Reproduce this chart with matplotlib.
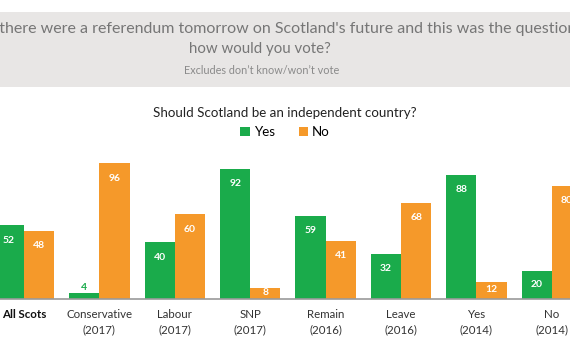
import matplotlib.pyplot as plt
import numpy as np
from matplotlib.patches import Rectangle

# Categorie e percentuali (Sì / No)
categories = ["All Scots", "Conservative\n(2017)", "Labour\n(2017)", "SNP\n(2017)",
              "Remain\n(2016)", "Leave\n(2016)", "Yes\n(2014)", "No\n(2014)"]
yes_vals = [52, 4, 40, 92, 59, 32, 88, 20]
no_vals = [48, 96, 60, 8, 41, 68, 12, 80]

green = "#1aab4b"
orange = "#f5992a"
grey_text = "#767676"

plt.rcParams['font.family'] = ['Lato', 'DejaVu Sans']

fig = plt.figure(figsize=(5.7, 3.5), dpi=100)

# riquadro grigio dell'intestazione
fig.patches.append(Rectangle((0, 1 - 87 / 350), 1, 75 / 350, transform=fig.transFigure,
                             facecolor="#e8e6e5", edgecolor="none", zorder=0))
fig.text(-15 / 570, 1 - 29 / 350,
         "If there were a referendum tomorrow on Scotland's future and this was the question,",
         ha="left", va="center", fontsize=11.5, color=grey_text)
fig.text(260 / 570, 1 - 49 / 350, "how would you vote?", ha="center", va="center",
         fontsize=10.8, color=grey_text)
fig.text(262 / 570, 1 - 70 / 350, "Excludes don\u2019t know/won\u2019t vote", ha="center",
         va="center", fontsize=7.8, color="#8a8a8a")

fig.text(0.5, 1 - 113 / 350, "Should Scotland be an independent country?", ha="center",
         va="center", fontsize=9.6, color="#222222")

ax = fig.add_axes([0, 51 / 350, 1, 149 / 350])
x = np.arange(len(categories))
w = 0.4
b_yes = ax.bar(x - w / 2, yes_vals, w, color=green, label="Yes")
b_no = ax.bar(x + w / 2, no_vals, w, color=orange, label="No")

for bars, vals, col in [(b_yes, yes_vals, green), (b_no, no_vals, orange)]:
    for r, v in zip(bars, vals):
        cx = r.get_x() + r.get_width() / 2
        if v < 6:
            ax.text(cx, v + 4, str(v), ha="center", va="center", fontsize=7.5,
                    color=col, fontweight="bold")
        else:
            y = max(v - 10.5, v / 2 + 0.5) if v < 25 else v - 10.5
            ax.text(cx, y, str(v), ha="center", va="center", fontsize=7.5,
                    color="white", fontweight="bold")

ax.set_xlim(-0.318, 7.24)
ax.set_ylim(0, 105.4)
for s in ["top", "right", "left"]:
    ax.spines[s].set_visible(False)
ax.spines["bottom"].set_color("#9a9a9a")
ax.spines["bottom"].set_linewidth(1.2)
ax.set_yticks([])
ax.set_xticks(x)
ax.set_xticklabels(categories, fontsize=8.3, color="#333333", linespacing=1.5, va="top")
ax.tick_params(axis="x", length=0, pad=7)
ax.get_xticklabels()[0].set_fontweight("bold")
ax.get_xticklabels()[0].set_color("#111111")

fig.legend(handles=[b_yes, b_no], labels=["Yes", "No"], loc="center",
           bbox_to_anchor=(0.5, 1 - 132 / 350), ncol=2, frameon=False, fontsize=9.6,
           handlelength=0.7, handleheight=0.7, handletextpad=0.3, columnspacing=1.8)

fig.savefig("out.png", dpi=100)
